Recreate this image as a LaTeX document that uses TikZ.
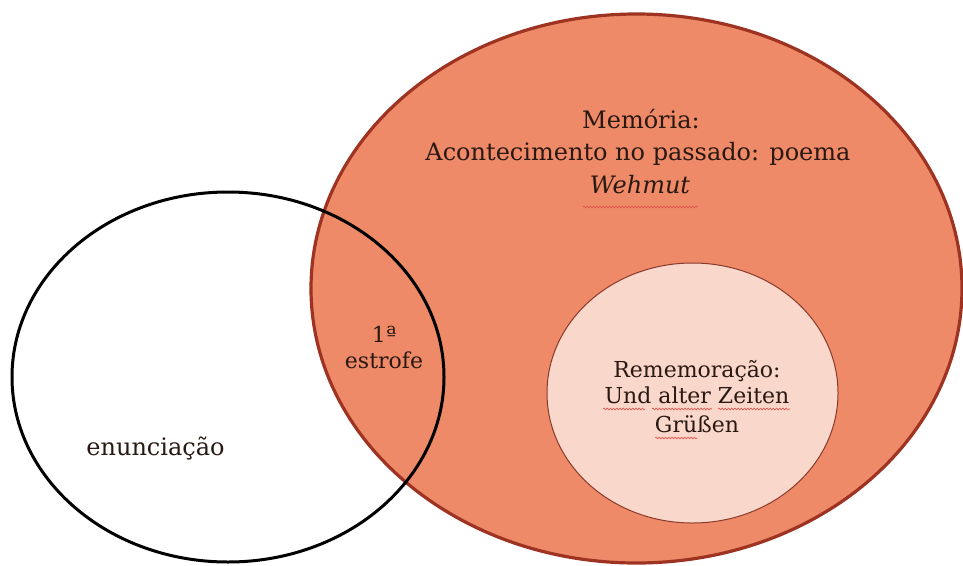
\documentclass[tikz,border=0pt]{standalone}
\usepackage{fontspec}
\setmainfont{DejaVu Serif}
\usetikzlibrary{shapes.geometric,decorations.pathmorphing}
\definecolor{memfill}{HTML}{EE8A68}
\definecolor{memline}{HTML}{9E3322}
\definecolor{remfill}{HTML}{F9D7CA}
\definecolor{remline}{HTML}{8A3A2A}
\definecolor{txt}{HTML}{2A1812}
\definecolor{squig}{HTML}{E0524A}
\tikzset{
  bigset/.style={ellipse, inner sep=0pt, fill=memfill, draw=memline, line width=3.2pt},
  innerset/.style={ellipse, inner sep=0pt, fill=remfill, draw=remline, line width=1pt},
  outline/.style={ellipse, inner sep=0pt, draw=black, line width=3pt},
  lbl/.style={anchor=base, inner sep=0pt, text=txt, font=\fontsize{24}{30}\selectfont},
  lblsmall/.style={lbl, font=\fontsize{22}{28}\selectfont},
  squiggle/.style={draw=squig, line width=0.6pt, decorate, decoration={snake, amplitude=0.9pt, segment length=3.2pt}}
}
\begin{document}
\begin{tikzpicture}[x=1pt,y=-1pt]
\useasboundingbox (0,0) rectangle (963,565);
\node[bigset, minimum width=651pt, minimum height=549pt] (mem) at (636.5,288.5) {};
\node[innerset, minimum width=291pt, minimum height=260pt] (rem) at (692.5,393) {};
\node[outline, minimum width=432pt, minimum height=370pt] (enun) at (228,377) {};
% Memória texts
\node[lbl] (m1) at (641,128) {Memória:};
\node[lbl] (m2) at (638,160) {Acontecimento no passado: poema};
\node[lbl, font=\fontsize{24}{30}\selectfont\itshape] (m3) at (640,193) {Wehmut};
% estrofe
\node[lblsmall] (e1) at (384,342) {1ª};
\node[lblsmall] (e2) at (384,368) {estrofe};
% Rememoração
\node[lblsmall] (r1) at (697,377) {Rememoração:};
\node[lblsmall] (r2) at (697,403) {Und alter Zeiten};
\node[lblsmall] (r3) at (697,432) {Grüßen};
% enunciação
\node[lbl] (n1) at (155.5,455) {enunciação};
% spell-check squiggles
\draw[squiggle] (583,207) -- (698,207);
\draw[squiggle] (603,409) -- (645,409);
\draw[squiggle] (652,409) -- (712,409);
\draw[squiggle] (718,409) -- (790,409);
\draw[squiggle] (655,438) -- (697,438);
\end{tikzpicture}
\end{document}
